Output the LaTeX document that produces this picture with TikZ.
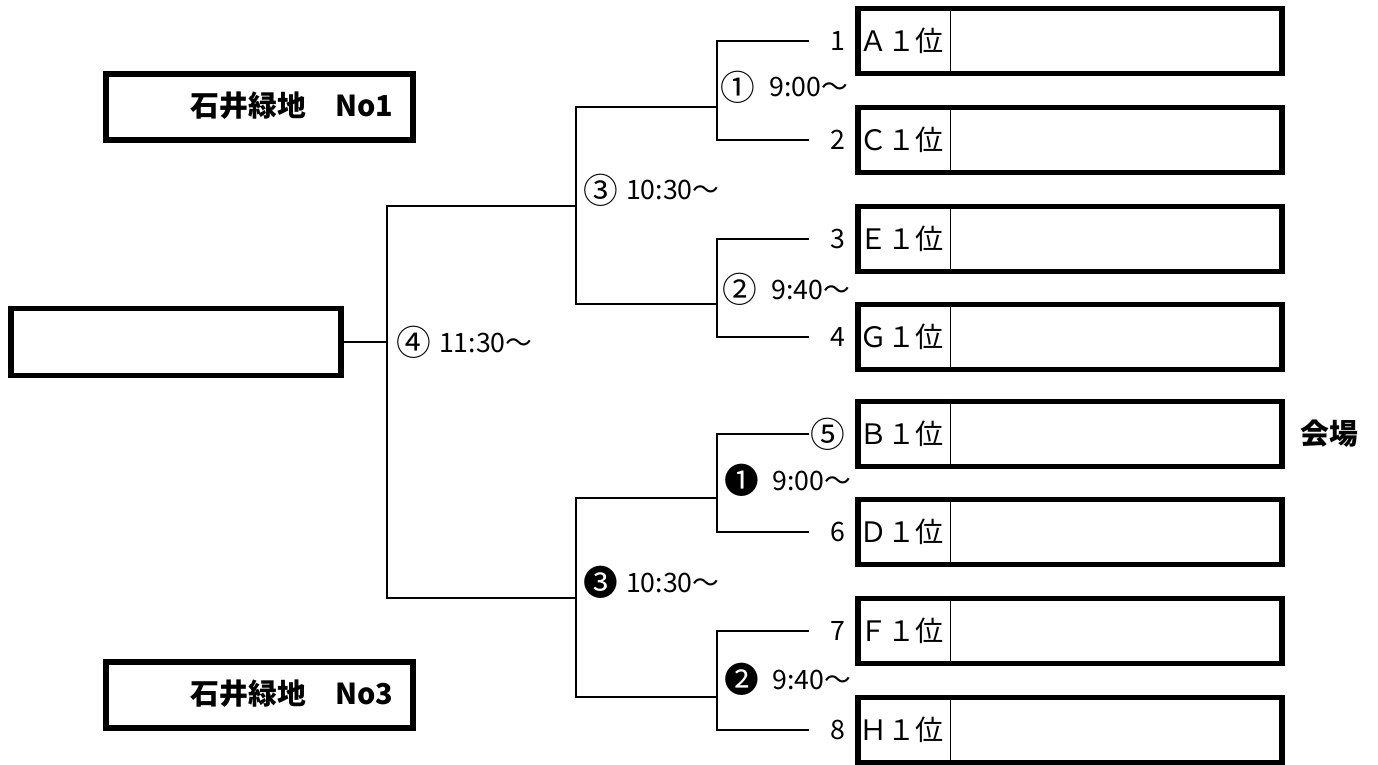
\documentclass[tikz,border=0pt]{standalone}
\usepackage{fontspec}
\setmainfont{Noto Sans CJK JP}
\usetikzlibrary{positioning}
\newcommand{\bigmark}[1]{\raisebox{-0.12em}{\scalebox{1.3}{#1}}}
\tikzset{
  wire/.style={line width=2.1pt},
  slot/.style={draw,line width=4.1pt,minimum width=106mm,minimum height=16.25mm},
  final/.style={draw,line width=4.1pt,minimum width=82.5mm,minimum height=16.75mm},
  venue/.style={draw,line width=4.1pt,minimum width=76.75mm,minimum height=16.5mm},
  match/.style={anchor=west,inner sep=0pt},
  title/.style={inner sep=0pt,font=\fontsize{20.5pt}{24pt}\selectfont\bfseries},
}
\begin{document}
\begin{tikzpicture}[x=0.25mm,y=-0.25mm,font=\fontsize{19pt}{23pt}\selectfont]
    \useasboundingbox (0,0) rectangle (1378,764);
    %% entry slots
    \foreach \i/\y/\t/\n in {1/41/Ａ/1,2/140/Ｃ/2,3/239/Ｅ/3,4/337/Ｇ/4,5/434/Ｂ/\bigmark{⑤},6/532/Ｄ/6,7/631/Ｆ/7,8/730/Ｈ/8}{
        \node[slot] (s\i) at (1070,\y) {};
        \node[anchor=west,inner sep=0pt,font=\fontsize{20pt}{24pt}\selectfont] (t\i) at ([xshift=0.9mm]s\i.west) {\t１位};
        \draw[line width=0.7pt] ([xshift=23.75mm]s\i.north west) -- ([xshift=23.75mm]s\i.south west);
        \node[anchor=east,inner sep=0pt] (n\i) at ([xshift=-2.3mm]s\i.west) {\n};
        \coordinate (e\i) at ([xshift=-11.5mm]s\i.west);
    }
    \node[right=3.8mm of s5,title] (hall) {会場};
    %% final and venues
    \node[final] (win) at (176,342) {};
    \node[venue] (v1) at (259.5,107) {};
    \node[title] (v1t) at (292,106) {石井緑地　No1};
    \node[venue] (v3) at (259.5,695) {};
    \node[title] (v3t) at (292,694) {石井緑地　No3};
    %% bracket joints
    \coordinate (q1) at (717,107);
    \coordinate (q2) at (717,304);
    \coordinate (q3) at (717,498);
    \coordinate (q4) at (717,697);
    \coordinate (p1) at (576,206);
    \coordinate (p2) at (576,598);
    \coordinate (k) at (387,342);
    %% first round
    \draw[wire] (e1) -| (q1) |- (e2);
    \draw[wire] (e3) -| (q2) |- (e4);
    \draw[wire] (e5) -| (q3) |- (e6);
    \draw[wire] (e7) -| (q4) |- (e8);
    %% semi finals
    \draw[wire] (q1) -| (p1) |- (q2);
    \draw[wire] (q3) -| (p2) |- (q4);
    %% final
    \draw[wire] (p1) -| (k) |- (p2);
    \draw[wire] (win.east) -- (k);
    %% match times
    \node[match] (m1) at (720,87) {\bigmark{①}\hspace{0.55em}9:00〜};
    \node[match] (m2) at (722,289) {\bigmark{②}\hspace{0.55em}9:40〜};
    \node[match] (m5) at (724,480) {\bigmark{❶}\hspace{0.5em}9:00〜};
    \node[match] (m6) at (724,679) {\bigmark{❷}\hspace{0.5em}9:40〜};
    \node[match] (m3) at (583,190) {\bigmark{③}\hspace{0.3em}10:30〜};
    \node[match] (m7) at (583,582) {\bigmark{❸}\hspace{0.3em}10:30〜};
    \node[match] (m4) at (396,342) {\bigmark{④}\hspace{0.3em}11:30〜};
\end{tikzpicture}
\end{document}
